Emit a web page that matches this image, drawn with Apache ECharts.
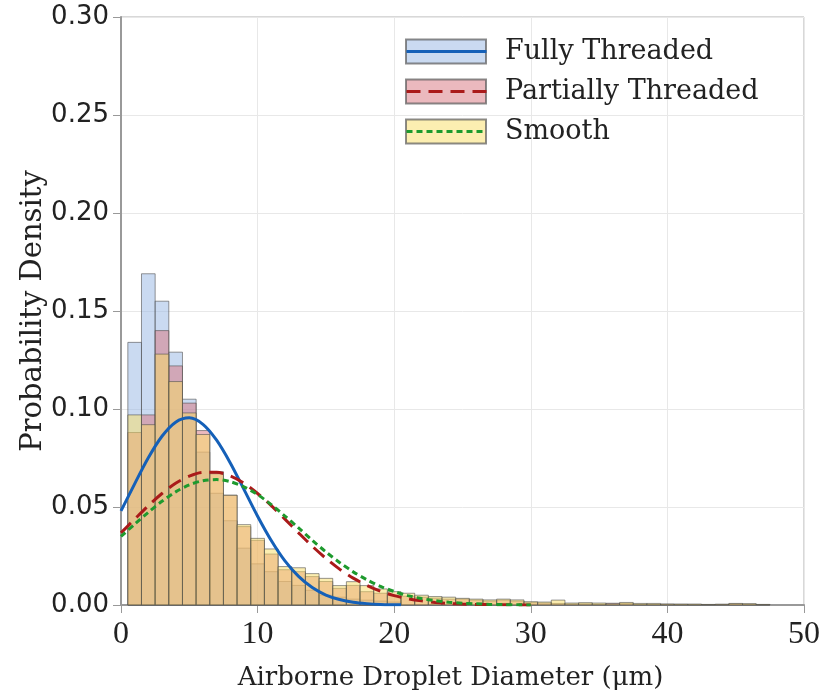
<!DOCTYPE html>
<html>
<head>
<meta charset="utf-8">
<script src="https://cdn.jsdelivr.net/npm/echarts@6/dist/echarts.min.js"></script>
<style>
html,body{margin:0;padding:0;background:#fff;}
#chart{width:824px;height:698px;}
</style>
</head>
<body>
<div id="chart"></div>
<script>
// ---- data ----
var seriesNames = ['Fully Threaded', 'Partially Threaded', 'Smooth'];
var binCenters = [1,2,3,4,5,6,7,8,9,10,11,12,13,14,15,16,17,18,19,20,21,22,23,24,25,26,27,28,29,30,31,32,33,34,35,36,37,38,39,40,41,42,43,44,45,46,47];
var histFully = [0.134,0.169,0.155,0.129,0.105,0.078,0.057,0.043,0.029,0.021,0.017,0.012,0.010,0.0075,0.005,0.004,0.003,0.0025,0.002,0.0015,0,0,0,0,0,0,0,0,0,0,0,0,0,0,0,0,0,0,0,0,0,0,0,0,0,0,0];
var histPartial = [0.088,0.097,0.140,0.122,0.103,0.089,0.068,0.056,0.040,0.033,0.026,0.018,0.017,0.0145,0.012,0.0085,0.010,0.0068,0.006,0.005,0.0045,0.004,0.0035,0.003,0.003,0.0025,0.002,0.0025,0.002,0.0012,0.001,0.0008,0.0005,0.0006,0.0004,0.0009,0.0008,0.0003,0.0003,0.0004,0.0003,0.0002,0.0002,0.0003,0.0006,0.0004,0.0002];
var histSmooth = [0.097,0.092,0.128,0.114,0.098,0.087,0.067,0.056,0.041,0.034,0.0286,0.0196,0.019,0.016,0.0136,0.0099,0.0119,0.0099,0.0082,0.0068,0.006,0.005,0.0043,0.004,0.0034,0.003,0.0026,0.003,0.0026,0.0017,0.0015,0.0025,0.001,0.0012,0.001,0.0006,0.0013,0.0008,0.0008,0.0005,0.0005,0.0005,0.0003,0.0004,0.0008,0.0007,0.0003];

var fitXFully = [0,1,2,3,4,5,6,7,8,9,10,11,12,13,14,15,16,17,18,19,20,20.5];
var fitFully = [0.048,0.0618,0.0751,0.0861,0.0933,0.0955,0.0922,0.0841,0.0725,0.0590,0.0453,0.0329,0.0225,0.0146,0.0089,0.0051,0.0028,0.0014,0.0007,0.0003,0.0001,0.0001];
var fitX = [0,1,2,3,4,5,6,7,8,9,10,11,12,13,14,15,16,17,18,19,20,21,22,23,24,25,26,27,28,29,30];
var fitPartial = [0.0368,0.0438,0.0507,0.0569,0.0621,0.0658,0.0677,0.0677,0.0658,0.0621,0.0569,0.0507,0.0438,0.0368,0.0300,0.0238,0.0183,0.0137,0.0100,0.0070,0.0048,0.0032,0.0021,0.0013,0.0008,0.0005,0.0003,0.0002,0.0001,0.00005,0.00002];
var fitSmooth = [0.0350,0.0412,0.0473,0.0529,0.0577,0.0613,0.0634,0.0640,0.0629,0.0603,0.0563,0.0512,0.0454,0.0393,0.0330,0.0271,0.0217,0.0169,0.0129,0.0095,0.0069,0.0048,0.0033,0.0022,0.0014,0.0009,0.0006,0.0003,0.0002,0.0001,0.00005];

var xTicks = [0,10,20,30,40,50];
var yTicks = [0,0.05,0.10,0.15,0.20,0.25,0.30];
var xTitle = 'Airborne Droplet Diameter (\u03bcm)';
var yTitle = 'Probability Density';

// ---- styling ----
var binWidth = 1;
var fills = ['rgba(150,182,228,0.5)', 'rgba(215,115,125,0.5)', 'rgba(250,222,100,0.5)'];
var lineColors = ['#1560b8', '#aa1a1a', '#1e9a2e'];
var serif = '"DejaVu Serif", serif';
var fitSuffix = ' fit';

function pairs(xs, ys){ return xs.map(function(x,i){ return [x, ys[i]]; }); }

function histRender(fill){
  return function(params, api){
    var x = api.value(0), v = api.value(1);
    if (!(v > 0)) return null;
    var p0 = api.coord([x - binWidth/2, v]);
    var p1 = api.coord([x + binWidth/2, 0]);
    return {
      type: 'rect',
      shape: {x: p0[0], y: p0[1], width: p1[0]-p0[0], height: p1[1]-p0[1]},
      style: {fill: fill, stroke: 'rgba(80,80,80,0.6)', lineWidth: 1}
    };
  };
}

var hists = [histFully, histPartial, histSmooth];
var series = [];
hists.forEach(function(h, i){
  series.push({
    name: seriesNames[i],
    type: 'custom',
    renderItem: histRender(fills[i]),
    data: pairs(binCenters, h),
    itemStyle: {color: fills[i], borderColor: 'rgba(90,90,90,0.7)', borderWidth: 1},
    encode: {x: 0, y: 1},
    z: 2 + i,
    silent: true
  });
});
var fits = [pairs(fitXFully, fitFully), pairs(fitX, fitPartial), pairs(fitX, fitSmooth)];
var dashes = ['solid', [14, 8], [6, 4]];
fits.forEach(function(d, i){
  series.push({
    name: seriesNames[i] + fitSuffix,
    type: 'line',
    data: d,
    smooth: 0.3,
    symbol: 'none',
    showSymbol: false,
    lineStyle: {color: lineColors[i], width: 3, type: dashes[i]},
    itemStyle: {color: lineColors[i]},
    z: 10 + i,
    silent: true
  });
});

var legendCommon = {
  orient: 'vertical',
  left: 405, top: 38, padding: 0,
  itemWidth: 80, itemHeight: 24, itemGap: 13
};

var chart = echarts.init(document.getElementById('chart'), null, {renderer: 'canvas'});
chart.setOption({
  animation: false,
  backgroundColor: '#fff',
  grid: {left: 121, right: 20, top: 17, bottom: 93, containLabel: false, outerBoundsMode: 'none',
    show: true, borderColor: '#b0b0b0', borderWidth: 1, backgroundColor: 'transparent'},
  legend: [Object.assign({
    data: seriesNames,
    icon: 'rect',
    textStyle: {fontFamily: serif, fontSize: 27, color: '#222', padding: [0,0,0,14], lineHeight: 26},
    z: 20
  }, legendCommon), Object.assign({
    data: seriesNames.map(function(n){ return n + fitSuffix; }),
    itemStyle: {opacity: 0, borderWidth: 0},
    lineStyle: {width: 3},
    formatter: function(n){ return n.replace(fitSuffix, ''); },
    textStyle: {fontFamily: serif, fontSize: 27, color: 'rgba(0,0,0,0)', padding: [0,0,0,14], lineHeight: 26},
    z: 21
  }, legendCommon)],
  xAxis: {
    type: 'value', min: 0, max: 50, interval: 10,
    name: xTitle, nameLocation: 'middle', nameGap: 60,
    nameTextStyle: {fontFamily: serif, fontSize: 26, color: '#222', padding: [0, 24, 0, 0]},
    axisLine: {show: true, onZero: false, lineStyle: {color: '#999', width: 2}},
    axisTick: {show: true, length: 8, lineStyle: {color: '#999'}},
    axisLabel: {fontFamily: '"Liberation Serif", serif', fontSize: 32, color: '#222', margin: 14,
      formatter: function(v){ return xTicks.indexOf(v) >= 0 ? String(v) : ''; }},
    splitLine: {show: true, lineStyle: {color: '#e8e8e8', width: 1}}
  },
  yAxis: {
    type: 'value', min: 0, max: 0.3, interval: 0.05,
    name: yTitle, nameLocation: 'middle', nameGap: 73, nameMoveOverlap: false,
    nameTextStyle: {fontFamily: serif, fontSize: 29, color: '#222'},
    axisLine: {show: true, lineStyle: {color: '#999', width: 2}},
    axisTick: {show: true, length: 8, lineStyle: {color: '#999'}},
    axisLabel: {fontFamily: '"DejaVu Sans", sans-serif', fontSize: 26, color: '#222', margin: 12,
      formatter: function(v){ var t = yTicks.filter(function(k){ return Math.abs(k - v) < 1e-9; }); return t.length ? t[0].toFixed(2) : ''; }},
    splitLine: {show: true, lineStyle: {color: '#e8e8e8', width: 1}}
  },
  series: series
});
</script>
</body>
</html>
